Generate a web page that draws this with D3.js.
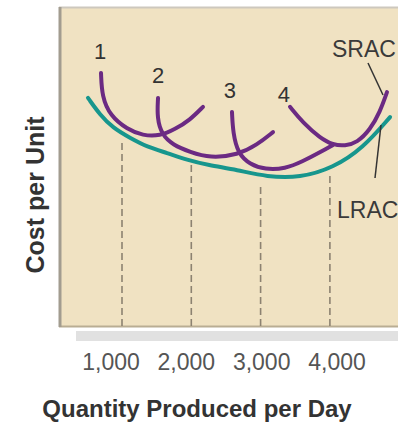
<!DOCTYPE html>
<html>
<head>
<meta charset="utf-8">
<script src="https://cdn.jsdelivr.net/npm/d3@7"></script>
<style>
    body { margin: 0; background: #fff; }
    svg { display: block; font-family: 'Liberation Sans', Arial, sans-serif; }
</style>
</head>
<body>
<svg id="chart"></svg>
<script>
// values: quantity per day, cost per unit (0-100 scale)
const quantityTicks = [1000, 2000, 3000, 4000];
const tickLabels = ['1,000', '2,000', '3,000', '4,000'];
const dashTops = [57.8, 50.6, 45, 48.4];

const lracQuantity = [509, 683, 870, 1115, 1361, 1650, 1938, 2241, 2659, 3093, 3569, 4045, 4478, 4868];
const lracCost = [71.6, 66.3, 62.2, 59.1, 56.3, 54.4, 52.2, 50.6, 49.1, 46.9, 46.6, 49.7, 55.9, 65.6];

const srac1 = [[697, 79.4], [711, 72], [830, 66], [1072, 61.8], [1300, 59.8], [1550, 59.7], [1765, 61.8], [1981, 64.7], [2169, 68.8]];
const srac2 = [[1520, 71.6], [1505, 65.3], [1577, 60], [1736, 56.9], [1981, 54.7], [2270, 52.8], [2674, 53.8], [2948, 56.9], [3179, 60.9]];
const srac3 = [[2587, 67.2], [2602, 60.6], [2674, 54.2], [2848, 50.8], [3064, 49.2], [3352, 49.4], [3612, 51.8], [3857, 54.6], [4045, 56.9]];
const srac4 = [[3424, 68.8], [3612, 63.8], [3857, 59.1], [4045, 56.9], [4218, 56.6], [4391, 57.6], [4579, 61.6], [4723, 67.2], [4824, 73.4]];
const sracLabels = ['1', '2', '3', '4'];

const WIDTH = 398;
const HEIGHT = 424;
const PLOT = { left: 59, top: 7, right: 404, bottom: 327 };
const PURPLE = '#6b2a83';
const TEAL = '#17968d';
const LABEL_OFFSETS = [[-1, -14], [0, -15], [-2, -14], [-6, -5]];

const svg = d3.select('#chart').attr('width', WIDTH).attr('height', HEIGHT);

const xCoord = d3.scaleLinear().domain([0, 5000]).range([52.7, 399.2]);
const yCoord = d3.scaleLinear().domain([0, 100]).range([PLOT.bottom, PLOT.top]);
const labelCoord = d3.scalePoint().domain(tickLabels).range([111, 337]);

const line = d3
    .line()
    .x(d => xCoord(d[0]))
    .y(d => yCoord(d[1]))
    .curve(d3.curveBasis);

// background panel
svg.append('rect')
    .attr('x', PLOT.left)
    .attr('y', PLOT.top)
    .attr('width', PLOT.right - PLOT.left)
    .attr('height', PLOT.bottom - PLOT.top)
    .attr('fill', '#f0e2c2');

svg.append('line')
    .attr('x1', PLOT.left).attr('x2', PLOT.right)
    .attr('y1', PLOT.top + 0.5).attr('y2', PLOT.top + 0.5)
    .attr('stroke', '#cdc8be').attr('stroke-width', 2);

svg.append('line')
    .attr('x1', PLOT.left).attr('x2', PLOT.right)
    .attr('y1', PLOT.bottom - 0.5).attr('y2', PLOT.bottom - 0.5)
    .attr('stroke', '#b9ad93').attr('stroke-width', 2);

svg.append('line')
    .attr('x1', PLOT.left + 1).attr('x2', PLOT.left + 1)
    .attr('y1', PLOT.top).attr('y2', PLOT.bottom)
    .attr('stroke', '#a29c8f').attr('stroke-width', 3);

svg.append('rect')
    .attr('x', 76).attr('y', 331)
    .attr('width', WIDTH - 76).attr('height', 10)
    .attr('fill', '#e1e1e1');

// dashed drop lines
svg.append('g')
    .selectAll('line')
    .data(quantityTicks)
    .join('line')
    .attr('x1', d => xCoord(d))
    .attr('x2', d => xCoord(d))
    .attr('y1', PLOT.bottom - 1)
    .attr('y2', (d, i) => yCoord(dashTops[i]))
    .attr('stroke', '#8c8271')
    .attr('stroke-width', 1.6)
    .attr('stroke-dasharray', '7,4');

// long run curve
svg.append('path')
    .attr('d', line(lracQuantity.map((q, i) => [q, lracCost[i]])))
    .attr('fill', 'none')
    .attr('stroke', TEAL)
    .attr('stroke-width', 4)
    .attr('stroke-linecap', 'round');

// short run curves
const sracCurves = [srac1, srac2, srac3, srac4];
svg.append('g')
    .selectAll('path')
    .data(sracCurves)
    .join('path')
    .attr('d', d => line(d))
    .attr('fill', 'none')
    .attr('stroke', PURPLE)
    .attr('stroke-width', 4)
    .attr('stroke-linecap', 'round');

svg.append('g')
    .selectAll('text')
    .data(sracLabels)
    .join('text')
    .attr('x', (d, i) => xCoord(sracCurves[i][0][0]) + LABEL_OFFSETS[i][0])
    .attr('y', (d, i) => yCoord(sracCurves[i][0][1]) + LABEL_OFFSETS[i][1])
    .attr('text-anchor', 'middle')
    .attr('font-size', 22)
    .attr('fill', '#333')
    .text(d => d);

// curve annotations
svg.append('text')
    .attr('x', 332).attr('y', 57)
    .attr('font-size', 23)
    .attr('fill', '#3a3a3a')
    .text('SRAC');

svg.append('line')
    .attr('x1', 368).attr('y1', 63)
    .attr('x2', 383).attr('y2', 95)
    .attr('stroke', '#333').attr('stroke-width', 1.5);

svg.append('text')
    .attr('x', 337).attr('y', 218)
    .attr('font-size', 23)
    .attr('fill', '#3a3a3a')
    .text('LRAC');

svg.append('line')
    .attr('x1', 381).attr('y1', 125)
    .attr('x2', 375).attr('y2', 178)
    .attr('stroke', '#333').attr('stroke-width', 1.5);

// axis text
svg.append('g')
    .selectAll('text')
    .data(tickLabels)
    .join('text')
    .attr('x', d => labelCoord(d))
    .attr('y', 370)
    .attr('text-anchor', 'middle')
    .attr('font-size', 23)
    .attr('fill', '#555')
    .text(d => d);

svg.append('text')
    .attr('x', 197).attr('y', 417)
    .attr('text-anchor', 'middle')
    .attr('font-size', 24)
    .attr('font-weight', 'bold')
    .attr('fill', '#333')
    .text('Quantity Produced per Day');

svg.append('text')
    .attr('transform', 'translate(44, 195) rotate(-90)')
    .attr('text-anchor', 'middle')
    .attr('font-size', 25)
    .attr('font-weight', 'bold')
    .attr('fill', '#333')
    .text('Cost per Unit');
</script>
</body>
</html>
